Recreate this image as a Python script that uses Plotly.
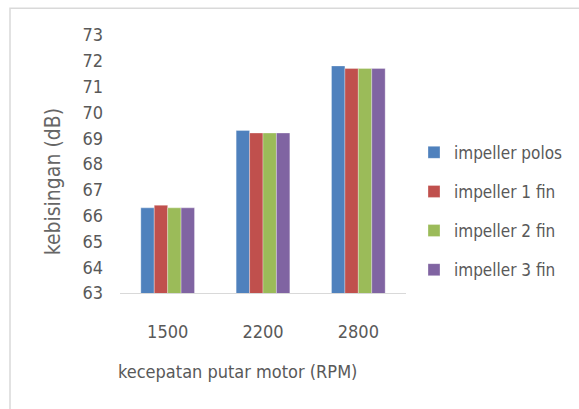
import plotly.graph_objects as go

categories = ["1500", "2200", "2800"]
series_names = ["impeller polos", "impeller 1 fin", "impeller 2 fin", "impeller 3 fin"]
values_polos = [66.3, 69.3, 71.8]
values_1fin = [66.4, 69.2, 71.7]
values_2fin = [66.3, 69.2, 71.7]
values_3fin = [66.3, 69.2, 71.7]
colors = ["#4F81BD", "#C0504D", "#9BBB59", "#8064A2"]
y_ticks = list(range(63, 74))

W, H = 579, 409
L, R, T, B = 120, 173, 35, 116

font_family = "Liberation Sans Narrow, DejaVu Sans Condensed, Open Sans"
gray = "#595959"

fig = go.Figure()
for i, (name, vals) in enumerate(zip(series_names, [values_polos, values_1fin, values_2fin, values_3fin])):
    fig.add_trace(go.Bar(
        x=categories, y=vals, name=name, legendgroup=name,
        marker=dict(color=colors[i], line=dict(width=0.6, color="rgba(255,255,255,0.5)")),
    ))

pw = W - L - R
ph = H - T - B

fig.update_layout(
    width=W, height=H,
    margin=dict(l=L, r=R, t=T, b=B),
    paper_bgcolor="white", plot_bgcolor="white",
    barmode="group", bargap=0.437, bargroupgap=0,
    font=dict(family=font_family, size=18, color=gray),
    showlegend=True,
    legend=dict(
        x=(414 - L) / pw, xanchor="left",
        y=(292.7 - 211) / ph, yanchor="middle",
        traceorder="grouped", tracegroupgap=14,
        font=dict(family=font_family, size=17, color=gray),
        bgcolor="rgba(0,0,0,0)",
    ),
    xaxis=dict(
        type="category", showgrid=False, showline=True, linecolor="#d9d9d9", linewidth=1,
        ticks="", ticklabelstandoff=22, tickfont=dict(size=18, color=gray),
    ),
    yaxis=dict(
        range=[63, 73], tickvals=y_ticks, showgrid=False, showline=False, zeroline=False,
        ticks="", ticklabelstandoff=16, tickfont=dict(size=18, color=gray),
    ),
    annotations=[
        dict(text="kecepatan putar motor (RPM)", xref="paper", yref="paper",
             x=(237 - L) / pw, y=(292.7 - 371) / ph, showarrow=False,
             font=dict(size=18, color=gray), xanchor="center", yanchor="middle"),
        dict(text="kebisingan (dB)", xref="paper", yref="paper",
             x=(53 - L) / pw, y=(292.7 - 182) / ph, showarrow=False, textangle=-90,
             font=dict(size=21, color="#666666"), xanchor="center", yanchor="middle"),
    ],
    shapes=[
        dict(type="rect", xref="paper", yref="paper",
             x0=(10 - L) / pw, x1=(600 - L) / pw, y0=(292.7 - 430) / ph, y1=(292.7 - 8) / ph,
             line=dict(color="#d9d9d9", width=1.5), fillcolor="rgba(0,0,0,0)", layer="below"),
    ],
)

fig.write_html("out.html")
